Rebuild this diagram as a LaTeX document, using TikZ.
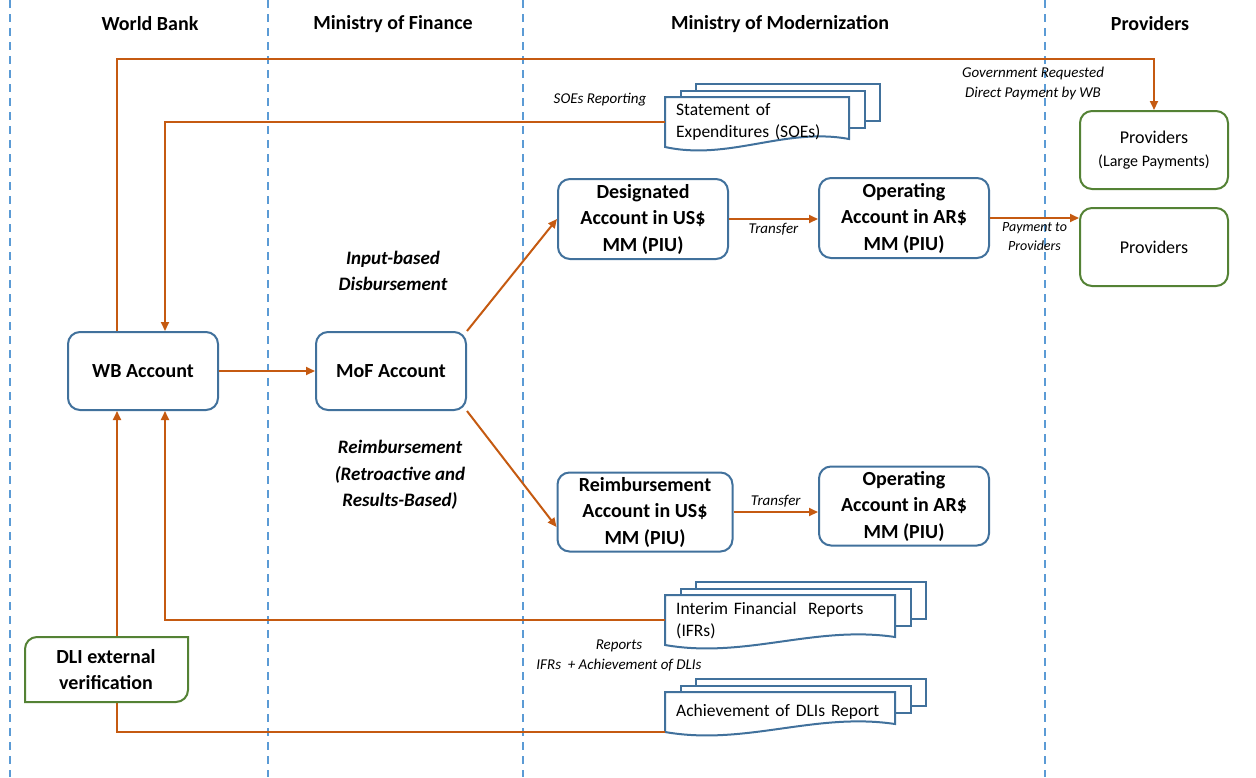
\documentclass[tikz,border=0pt]{standalone}
\usepackage{fontspec}
\setmainfont{Carlito}
\usetikzlibrary{arrows.meta,calc}
\definecolor{flowor}{RGB}{197,90,17}
\definecolor{boxblue}{RGB}{65,113,156}
\definecolor{boxgreen}{RGB}{84,130,53}
\definecolor{laneblue}{RGB}{91,155,213}
\tikzstyle{lane}=[laneblue,line width=1.5pt,dash pattern=on 8pt off 6pt]
\tikzstyle{lanehead}=[font=\fontsize{20}{24}\selectfont\bfseries]
\tikzstyle{account}=[draw=boxblue,line width=2pt,fill=white,rounded corners=12pt,align=center,inner sep=3pt,font=\fontsize{20}{26.5}\selectfont\bfseries]
\tikzstyle{provider}=[draw=boxgreen,line width=2pt,fill=white,rounded corners=12pt,align=center,minimum width=148pt,minimum height=78pt,font=\fontsize{18}{23}\selectfont]
\tikzstyle{docline}=[draw=boxblue,line width=2pt,fill=white]
\tikzstyle{doctext}=[align=left,inner xsep=11pt,inner ysep=0pt,font=\fontsize{17.5}{22}\selectfont]
\tikzstyle{flow}=[flowor,line width=2pt,-{Triangle[length=9pt,width=8pt]}]
\tikzstyle{flowlabel}=[text=black,font=\fontsize{15}{20}\selectfont\itshape,align=center]
\tikzstyle{routelabel}=[font=\fontsize{19}{26.5}\selectfont\bfseries\itshape,align=center]
\tikzstyle{dliline}=[draw=boxgreen,line width=2pt,fill=white]
\newcommand{\docstack}[6]{% name, x, y (top left of front page), width, height, text
  \pgfmathsetmacro{\docw}{#4-22}
  \foreach \k in {2,1} {
    \draw[docline] (#2+15.5*\k,#3-6.5*\k) rectangle ++(#4,#5-13);
  }
  \draw[docline] (#2,#3) -- (#2+#4,#3) -- (#2+#4,#3+#5-8)
    .. controls (#2+0.65*#4,#3+#5-20) and (#2+0.35*#4,#3+#5+14) .. (#2,#3+#5) -- cycle;
  \node[doctext,anchor=north west,minimum height=#5pt,text width=\docw pt] (#1) at (#2,#3) {#6};
}

\begin{document}
\begin{tikzpicture}[x=1pt,y=-1pt]
\useasboundingbox (0,0) rectangle (1256,777);
% lanes
\foreach \x in {10,268,523,1045}
  \draw[lane] (\x,0) -- (\x,777);
\node[lanehead] (hwb) at (150,24) {World Bank};
\node[lanehead] (hmof) at (393,24) {Ministry of Finance};
\node[lanehead] (hmm) at (780,24) {Ministry of Modernization};
\node[lanehead] (hprov) at (1150,24) {Providers};

% accounts
\node[account,minimum width=150pt,minimum height=78pt] (wb) at (143,371) {WB Account};
\node[account,minimum width=150pt,minimum height=78pt] (mof) at (391,371) {MoF Account};
\node[account,minimum width=170pt,minimum height=80pt] (des) at (643,219) {Designated\\Account in US\$\\MM (PIU)};
\node[account,minimum width=170pt,minimum height=80pt] (opa) at (904,218) {Operating\\Account in AR\$\\MM (PIU)};
\node[account,minimum width=175pt,minimum height=79pt] (reim) at (645,512) {Reimbursement\\Account in US\$\\MM (PIU)};
\node[account,minimum width=170pt,minimum height=79pt] (opb) at (904,506) {Operating\\Account in AR\$\\MM (PIU)};
\node[provider] (plarge) at (1154,150) {Providers\\{\fontsize{16}{20}\selectfont(Large Payments)}};
\node[provider] (prov) at (1154,247) {Providers};

% reports
\docstack{soe}{665}{97}{184}{50}{Statement of\\Expenditures (SOEs)}
\docstack{ifr}{665}{595}{230}{50}{Interim Financial\ \ Reports\\(IFRs)}
\docstack{dlr}{665}{692}{230}{40}{Achievement of DLIs Report}

% flows
\draw[flow] (wb) -- (mof);
\draw[flow] (mof.north east) -- (des.west);
\draw[flow] (mof.south east) -- ([yshift=-15pt]reim.west);
\draw[flow] (des.east) -- (des.east -| opa.west) node[flowlabel,below,midway] (ltra) {Transfer};
\draw[flow] (opa.east) -- (opa.east -| prov.west) node[flowlabel,below,midway,font=\fontsize{14}{19}\selectfont\itshape] (lpay) {Payment to\\Providers};
\draw[flow] (reim.east) -- (reim.east -| opb.west) node[flowlabel,above,midway] (ltrb) {Transfer};
\coordinate (gov) at (1154,59);
\draw[flow] ([xshift=-26pt]wb.north) |- (gov) -- (plarge.north);
\node[flowlabel] (lgov) at (1033,83) {Government Requested\\Direct Payment by WB};
\draw[flow] (soe.west) -| ([xshift=22pt]wb.north);
\node[flowlabel] (lsoe) at (600,100) {SOEs Reporting};
\draw[flow] (ifr.west) -| ([xshift=22pt]wb.south);
\draw[flow] (dlr.south west) -| ([xshift=-26pt]wb.south);
\node[flowlabel] (lrep) at (619,656) {Reports\\IFRs\ \ + Achievement of DLIs};
\node[routelabel] (lin) at (393,271) {Input-based\\Disbursement};
\node[routelabel] (lre) at (400,475) {Reimbursement\\(Retroactive and\\Results-Based)};

% external verification
\draw[dliline] (25,649) arc (180:270:12) -- (188,637) -- (188,690) arc (0:90:12) -- (25,702) -- cycle;
\node[font=\fontsize{20}{26}\selectfont\bfseries,align=center] (dli) at (106,670) {DLI external\\verification};
\end{tikzpicture}
\end{document}
